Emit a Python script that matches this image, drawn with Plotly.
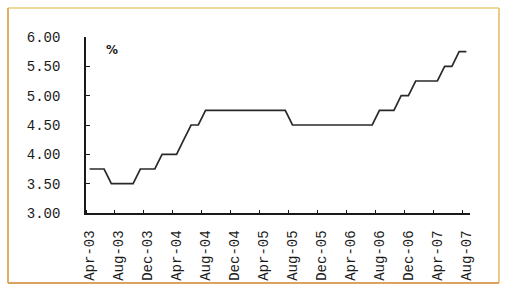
import plotly.graph_objects as go
import pandas as pd

# ---- data ----
months = list(pd.date_range("2003-04-01", periods=53, freq="MS").strftime("%b-%y"))
rate = [3.75, 3.75, 3.75,
        3.50, 3.50, 3.50, 3.50,
        3.75, 3.75, 3.75,
        4.00, 4.00, 4.00,
        4.25,
        4.50, 4.50,
        4.75, 4.75, 4.75, 4.75, 4.75, 4.75, 4.75, 4.75, 4.75, 4.75, 4.75, 4.75,
        4.50, 4.50, 4.50, 4.50, 4.50, 4.50, 4.50, 4.50, 4.50, 4.50, 4.50, 4.50,
        4.75, 4.75, 4.75,
        5.00, 5.00,
        5.25, 5.25, 5.25, 5.25,
        5.50, 5.50,
        5.75, 5.75]
x_tick_labels = ["Apr-03", "Aug-03", "Dec-03", "Apr-04", "Aug-04", "Dec-04", "Apr-05",
                 "Aug-05", "Dec-05", "Apr-06", "Aug-06", "Dec-06", "Apr-07", "Aug-07"]
y_ticks = [3.0, 3.5, 4.0, 4.5, 5.0, 5.5, 6.0]
y_tick_labels = ["3.00", "3.50", "4.00", "4.50", "5.00", "5.50", "6.00"]
unit_label = "%"

idx = list(range(len(months)))
label_idx = [months.index(l) for l in x_tick_labels]
boundaries = [i - 0.5 for i in label_idx]

W, H = 508, 291
L, R, T, B = 86, 38, 37, 78
pw, ph = W - L - R, H - T - B

def px_to_paper(x, y):
    return (x - L) / pw, 1 - (y - T) / ph

fig = go.Figure()
fig.add_trace(go.Scatter(x=idx, y=rate, mode="lines",
                         line=dict(color="#2a2a2a", width=1.7),
                         hoverinfo="skip", showlegend=False))

yfont = dict(family="Liberation Mono, DejaVu Sans Mono, monospace", size=14, color="#1a1a1a")
xfont = dict(family="Liberation Mono, DejaVu Sans Mono, monospace", size=14, color="#1a1a1a")

fig.update_layout(
    width=W, height=H,
    margin=dict(l=L, r=R, t=T, b=B, autoexpand=False),
    paper_bgcolor="white", plot_bgcolor="white",
    xaxis=dict(range=[-0.5, len(months) - 0.5], tickmode="array",
               tickvals=label_idx, ticktext=x_tick_labels, ticks="",
               tickangle=-90, tickfont=xfont, ticklabelstandoff=10,
               showline=True, linecolor="#1a1a1a", linewidth=1.6,
               showgrid=False, zeroline=False, automargin=False,
               minor=dict(tickmode="array", tickvals=boundaries, ticks="inside",
                          ticklen=3, tickwidth=1.3, tickcolor="#1a1a1a", showgrid=False)),
    yaxis=dict(range=[3.0, 6.0], tickmode="array", tickvals=y_ticks,
               ticktext=y_tick_labels, ticks="inside", ticklen=4, tickwidth=1.3,
               tickcolor="#1a1a1a", tickfont=yfont, ticklabelstandoff=21,
               showline=True, linecolor="#1a1a1a", linewidth=1.6,
               showgrid=False, zeroline=False, automargin=False),
)

# unit label
ux, uy = px_to_paper(104, 41)
fig.add_annotation(x=ux, y=uy, xref="paper", yref="paper", text="<b>" + unit_label + "</b>",
                   showarrow=False, font=dict(family="DejaVu Sans", size=12, color="#1a1a1a"))

# outer frame
x0, y0 = px_to_paper(8, 8)
x1, y1 = px_to_paper(499, 283)
fig.add_shape(type="line", xref="paper", yref="paper", x0=x0, y0=y0, x1=x1, y1=y0,
              line=dict(color="#EFD99A", width=2))
fig.add_shape(type="line", xref="paper", yref="paper", x0=x1, y0=y0, x1=x1, y1=y1,
              line=dict(color="#EBCB85", width=2))
fig.add_shape(type="line", xref="paper", yref="paper", x0=x0, y0=y0, x1=x0, y1=y1,
              line=dict(color="#E2AE68", width=2))
fig.add_shape(type="line", xref="paper", yref="paper", x0=x0, y0=y1, x1=x1, y1=y1,
              line=dict(color="#DDA25E", width=2))

fig.write_html("out.html")
